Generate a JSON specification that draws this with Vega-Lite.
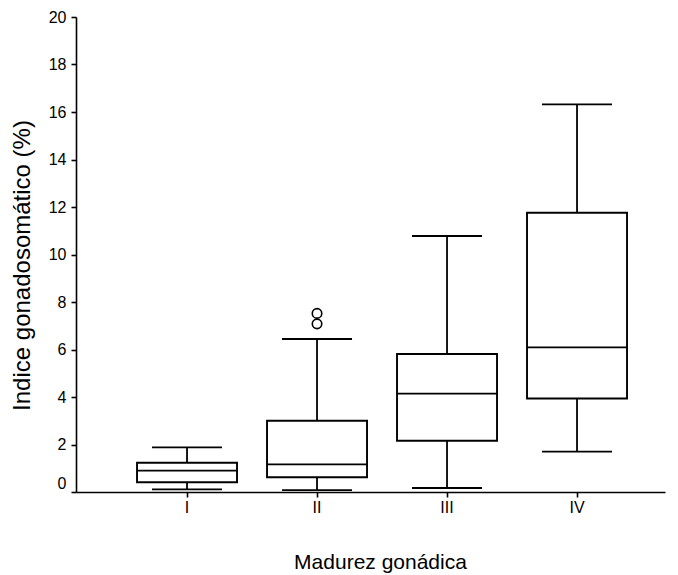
{
  "$schema": "https://vega.github.io/schema/vega-lite/v6.json",
  "autosize": "none",
  "width": 589,
  "height": 475,
  "padding": {"left": 76, "top": 17, "right": 13, "bottom": 83},
  "background": "white",
  "config": {
    "view": {"stroke": null},
    "font": "Liberation Sans",
    "axis": {"grid": false, "domainColor": "black", "tickColor": "black", "labelColor": "black", "titleColor": "black", "domainWidth": 1.6, "tickWidth": 1.6, "labelFont": "Liberation Sans", "titleFont": "Liberation Sans", "titleFontWeight": "normal"}
  },
  "datasets": {
    "boxes": [
      {"stage": "I", "min": 0.11, "q1": 0.41, "median": 0.90, "q3": 1.23, "max": 1.88},
      {"stage": "II", "min": 0.08, "q1": 0.62, "median": 1.16, "q3": 3.00, "max": 6.44},
      {"stage": "III", "min": 0.17, "q1": 2.16, "median": 4.14, "q3": 5.81, "max": 10.78},
      {"stage": "IV", "min": 1.70, "q1": 3.94, "median": 6.09, "q3": 11.76, "max": 16.32}
    ],
    "outliers": [
      {"stage": "II", "value": 7.08},
      {"stage": "II", "value": 7.52}
    ]
  },
  "data": {"name": "boxes"},
  "encoding": {
    "x": {
      "field": "stage", "type": "nominal", "sort": ["I", "II", "III", "IV"],
      "scale": {"domain": ["I", "II", "III", "IV"], "paddingInner": 0, "paddingOuter": 0.2654, "align": 0.667},
      "axis": {"title": "Madurez gonádica", "labelAngle": 0, "labelFontSize": 16, "labelPadding": 2, "tickSize": 5, "titleFontSize": 21, "titleX": 304, "titleY": 76, "titleBaseline": "alphabetic"}
    }
  },
  "layer": [
    {
      "mark": {"type": "rule", "color": "black", "strokeWidth": 1.8},
      "encoding": {
        "y": {"field": "min", "type": "quantitative", "scale": {"domain": [0, 20]},
          "axis": {"title": "Indice gonadosomático (%)", "values": [0, 2, 4, 6, 8, 10, 12, 14, 16, 18, 20], "labelFontSize": 16, "labelPadding": 5, "tickSize": 5, "titleFontSize": 24, "titleX": -54, "titleY": 248, "titleBaseline": "middle", "labelOffset": {"condition": {"test": "datum.value === 0", "value": -9}, "value": 0}}},
        "y2": {"field": "max"}
      }
    },
    {
      "mark": {"type": "bar", "fill": "white", "stroke": "black", "strokeWidth": 1.9, "size": 100},
      "encoding": {
        "y": {"field": "q1", "type": "quantitative"},
        "y2": {"field": "q3"}
      }
    },
    {
      "mark": {"type": "tick", "color": "black", "opacity": 1, "size": 100, "thickness": 1.8},
      "encoding": {"y": {"field": "median", "type": "quantitative"}}
    },
    {
      "mark": {"type": "tick", "color": "black", "opacity": 1, "size": 70, "thickness": 1.9},
      "encoding": {"y": {"field": "max", "type": "quantitative"}}
    },
    {
      "mark": {"type": "tick", "color": "black", "opacity": 1, "size": 70, "thickness": 1.9},
      "encoding": {"y": {"field": "min", "type": "quantitative"}}
    },
    {
      "data": {"name": "outliers"},
      "mark": {"type": "point", "shape": "circle", "filled": false, "stroke": "black", "opacity": 1, "strokeWidth": 1.6, "size": 90},
      "encoding": {"y": {"field": "value", "type": "quantitative"}}
    }
  ]
}
